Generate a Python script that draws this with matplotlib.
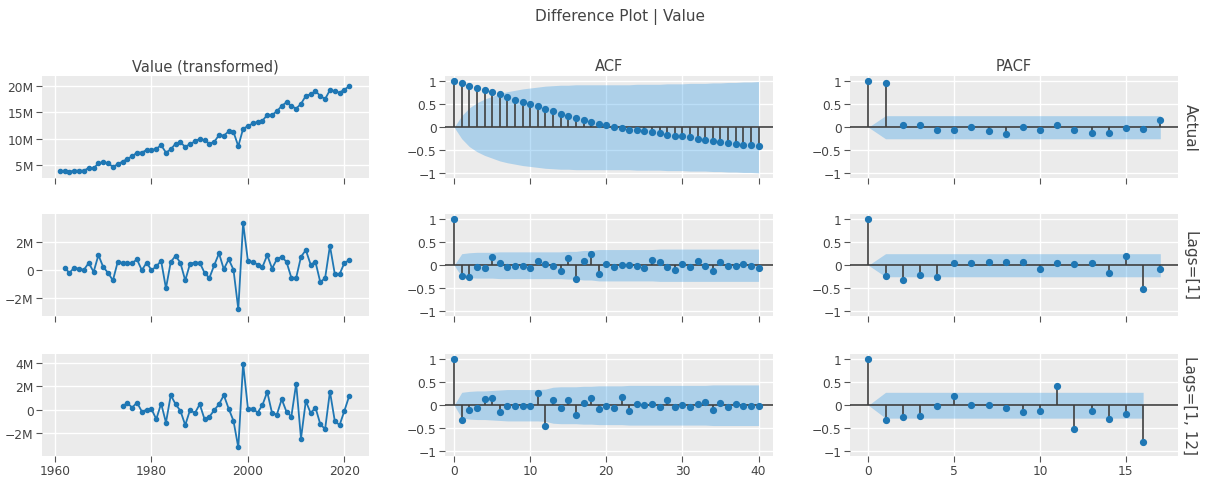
import numpy as np
import matplotlib
matplotlib.use("Agg")
import matplotlib.pyplot as plt
from matplotlib.ticker import FixedLocator

# ---- data ----
years = list(range(1961, 2022))
value_actual = [3.9, 4.0, 3.8, 4.0, 4.0, 4.0, 4.5, 4.4, 5.4, 5.6,
                5.4, 4.7, 5.2, 5.7, 6.2, 6.7, 7.4, 7.4, 7.9, 7.9,
                8.1, 8.8, 7.4, 8.0, 9.1, 9.3, 8.5, 9.0, 9.5, 10.0,
                9.7, 9.1, 9.4, 10.7, 10.6, 11.4, 11.3, 8.6, 11.9, 12.4,
                12.9, 13.2, 13.4, 14.5, 14.5, 15.2, 16.2, 16.9, 16.2, 15.7,
                16.6, 18.1, 18.4, 19.0, 18.1, 17.5, 19.2, 19.0, 18.7, 19.3,
                19.9]
value_lag1 = [0.14, -0.2, 0.17, 0.07, 0.02, 0.5, -0.14, 1.05, 0.2, -0.2,
              -0.74, 0.57, 0.5, 0.5, 0.5, 0.74, -0.02, 0.52, -0.02, 0.26,
              0.64, -1.29, 0.57, 1.0, 0.5, -0.74, 0.45, 0.52, 0.52, -0.2,
              -0.57, 0.33, 1.17, 0.05, 0.76, 0.02, -2.76, 3.3, 0.62, 0.57,
              0.38, 0.2, 1.05, 0.1, 0.76, 0.93, 0.57, -0.55, -0.55, 0.93,
              1.4, 0.38, 0.57, -0.86, -0.57, 1.7, -0.26, -0.3, 0.5, 0.69]
value_lag1_12 = [0.34, 0.57, 0.2, 0.62, -0.14, 0.0, 0.06, -0.79, 0.54, -1.08,
                 1.25, 0.48, -0.08, -1.3, 0.0, -0.28, 0.48, -0.79, -0.59, -0.03,
                 0.48, 1.25, 0.11, -0.93, -3.2, 3.94, 0.11, 0.11, -0.23, 0.4,
                 1.53, -0.28, -0.4, 0.91, -0.17, -0.57, 2.24, -2.44, 0.76, -0.28,
                 0.2, -1.22, -1.64, 1.56, -0.93, -1.3, -0.08, 1.19]

acf_actual = [1.0, 0.95, 0.9, 0.86, 0.81, 0.76, 0.71, 0.66, 0.6, 0.55,
              0.5, 0.45, 0.4, 0.35, 0.29, 0.24, 0.19, 0.15, 0.11, 0.07,
              0.04, 0.01, -0.02, -0.05, -0.07, -0.09, -0.11, -0.13, -0.16, -0.18,
              -0.2, -0.22, -0.25, -0.27, -0.29, -0.32, -0.34, -0.36, -0.38, -0.39,
              -0.41]
acf_actual_ci = [0.0, 0.25, 0.42, 0.53, 0.61, 0.67, 0.73, 0.77, 0.8, 0.83,
                 0.85, 0.87, 0.89, 0.9, 0.91, 0.91, 0.92, 0.92, 0.92, 0.92,
                 0.92, 0.92, 0.92, 0.92, 0.93, 0.93, 0.93, 0.93, 0.94, 0.94,
                 0.94, 0.95, 0.95, 0.95, 0.96, 0.96, 0.97, 0.97, 0.98, 0.98,
                 0.99]
acf_lag1 = [1.0, -0.23, -0.25, -0.04, -0.06, 0.18, 0.04, -0.04, -0.02, -0.01,
            -0.06, 0.1, 0.03, -0.02, -0.12, 0.15, -0.29, 0.1, 0.24, -0.19,
            0.03, -0.03, 0.01, 0.01, -0.02, -0.06, 0.12, 0.07, -0.04, -0.1,
            0.03, -0.04, 0.1, -0.01, -0.12, 0.07, -0.02, -0.01, 0.03, -0.02,
            -0.06]
acf_lag1_ci = [0.0, 0.25, 0.27, 0.28, 0.28, 0.28, 0.29, 0.29, 0.29, 0.29,
               0.29, 0.29, 0.29, 0.29, 0.29, 0.3, 0.3, 0.32, 0.32, 0.34,
               0.34, 0.34, 0.34, 0.34, 0.34, 0.34, 0.34, 0.35, 0.35, 0.35,
               0.35, 0.35, 0.35, 0.35, 0.35, 0.35, 0.35, 0.35, 0.35, 0.35,
               0.35]
acf_lag1_12 = [1.0, -0.31, -0.11, -0.06, 0.13, 0.15, -0.15, -0.02, -0.01, -0.01,
               -0.01, 0.27, -0.46, 0.11, -0.05, 0.11, -0.22, 0.04, 0.16, -0.09,
               -0.02, -0.06, 0.18, -0.13, 0.02, 0.01, 0.03, -0.04, 0.11, -0.04,
               0.0, -0.04, 0.02, 0.07, -0.11, 0.04, -0.04, 0.03, -0.01, -0.01,
               -0.01]
acf_lag1_12_ci = [0.0, 0.28, 0.3, 0.31, 0.31, 0.32, 0.33, 0.34, 0.34, 0.34,
                  0.34, 0.34, 0.35, 0.39, 0.4, 0.4, 0.4, 0.41, 0.41, 0.42,
                  0.42, 0.42, 0.42, 0.43, 0.43, 0.43, 0.43, 0.43, 0.43, 0.43,
                  0.43, 0.43, 0.43, 0.43, 0.44, 0.44, 0.44, 0.44, 0.44, 0.44,
                  0.44]

pacf_actual = [1.0, 0.96, 0.05, 0.04, -0.06, -0.07, 0.0, -0.09, -0.15, 0.0,
               -0.05, 0.05, -0.07, -0.12, -0.12, -0.01, -0.04, 0.16]
pacf_lag1 = [1.0, -0.24, -0.32, -0.21, -0.25, 0.05, 0.05, 0.08, 0.07, 0.08,
             -0.08, 0.05, 0.03, 0.04, -0.17, 0.21, -0.52, -0.08]
pacf_lag1_12 = [1.0, -0.33, -0.25, -0.24, -0.01, 0.21, 0.01, 0.01, -0.05, -0.14,
                -0.12, 0.41, -0.51, -0.12, -0.3, -0.2, -0.8]
pacf_ci = [0.25, 0.25, 0.28]  # constant band after lag 0, per row

row_labels = ["Actual", "Lags=[1]", "Lags=[1, 12]"]
col_titles = ["Value (transformed)", "ACF", "PACF"]

BLUE = "#1f77b4"
BAND = (32 / 255, 146 / 255, 230 / 255, 0.3)
STEM = "#3f3f3f"
BG = "#EBEBEB"
TXT = "#444444"

W, H = 1206, 485
fig = plt.figure(figsize=(W / 100, H / 100), dpi=100)
plt.rcParams["font.family"] = "DejaVu Sans"

cols_px = [(42, 369), (445, 773), (850, 1178)]
rows_px = [(77, 179), (215, 317), (355, 457)]


def make_ax(c, r):
    x0, x1 = cols_px[c]
    y0, y1 = rows_px[r]
    ax = fig.add_axes([x0 / W, 1 - y1 / H, (x1 - x0) / W, (y1 - y0) / H])
    ax.set_facecolor(BG)
    for s in ax.spines.values():
        s.set_visible(False)
    ax.grid(True, color="white", linewidth=1.0)
    ax.set_axisbelow(True)
    ax.tick_params(direction="out", length=4, width=0.8, color="#555555",
                   labelcolor=TXT, labelsize=8.8, pad=2)
    return ax


def minus(v):
    s = f"{v:g}"
    return s.replace("-", "\u2212")


series = [value_actual, value_lag1, value_lag1_12]
series_years = [years, years[1:], years[13:]]
ts_ylims = [(2.6, 21.85), (-3.24, 3.94), (-3.93, 4.76)]
ts_yticks = [[5, 10, 15, 20], [-2, 0, 2], [-2, 0, 2, 4]]

acfs = [acf_actual, acf_lag1, acf_lag1_12]
acf_cis = [acf_actual_ci, acf_lag1_ci, acf_lag1_12_ci]
pacfs = [pacf_actual, pacf_lag1, pacf_lag1_12]

for r in range(3):
    # time series column
    ax = make_ax(0, r)
    ax.plot(series_years[r], series[r], color=BLUE, linewidth=1.3,
            marker="o", markersize=3.0, zorder=3)
    ax.set_xlim(1957.3, 2025.1)
    ax.set_ylim(*ts_ylims[r])
    ax.xaxis.set_major_locator(FixedLocator([1960, 1980, 2000, 2020]))
    ax.yaxis.set_major_locator(FixedLocator(ts_yticks[r]))
    ax.set_yticklabels([("0" if t == 0 else minus(t) + "M") for t in ts_yticks[r]])
    if r < 2:
        ax.set_xticklabels([])
    if r == 0:
        ax.set_title(col_titles[0], fontsize=10.5, color=TXT, pad=4)

    # ACF column
    ax = make_ax(1, r)
    lags = np.arange(len(acfs[r]))
    ci = np.array(acf_cis[r])
    ax.fill_between(lags, -ci, ci, color=BAND, linewidth=0, zorder=1)
    ax.axhline(0, color=STEM, linewidth=1.2, zorder=2)
    ax.vlines(lags, 0, acfs[r], color=STEM, linewidth=1.2, zorder=3)
    ax.plot(lags, acfs[r], "o", color=BLUE, markersize=4.2, zorder=4)
    ax.set_xlim(-1.2, 41.9)
    ax.set_ylim(-1.1, 1.11)
    ax.xaxis.set_major_locator(FixedLocator([0, 10, 20, 30, 40]))
    ax.yaxis.set_major_locator(FixedLocator([-1, -0.5, 0, 0.5, 1]))
    ax.set_yticklabels([minus(t) for t in [-1, -0.5, 0, 0.5, 1]])
    if r < 2:
        ax.set_xticklabels([])
    if r == 0:
        ax.set_title(col_titles[1], fontsize=10.5, color=TXT, pad=4)

    # PACF column
    ax = make_ax(2, r)
    lags = np.arange(len(pacfs[r]))
    ci = np.full(len(lags), pacf_ci[r])
    ci[0] = 0.0
    ax.fill_between(lags, -ci, ci, color=BAND, linewidth=0, zorder=1)
    ax.axhline(0, color=STEM, linewidth=1.2, zorder=2)
    ax.vlines(lags, 0, pacfs[r], color=STEM, linewidth=1.2, zorder=3)
    ax.plot(lags, pacfs[r], "o", color=BLUE, markersize=4.2, zorder=4)
    ax.set_xlim(-1.07, 18.03)
    ax.set_ylim(-1.1, 1.11)
    ax.xaxis.set_major_locator(FixedLocator([0, 5, 10, 15]))
    ax.yaxis.set_major_locator(FixedLocator([-1, -0.5, 0, 0.5, 1]))
    ax.set_yticklabels([minus(t) for t in [-1, -0.5, 0, 0.5, 1]])
    if r < 2:
        ax.set_xticklabels([])
    if r == 0:
        ax.set_title(col_titles[2], fontsize=10.5, color=TXT, pad=4)

    # row label on the right
    yc = (rows_px[r][0] + rows_px[r][1]) / 2
    fig.text(1190 / W, 1 - yc / H, row_labels[r], rotation=-90,
             ha="center", va="center", fontsize=11, color=TXT)

fig.text(620 / W, 1 - 17 / H, "Difference Plot | Value", ha="center",
         va="center", fontsize=11, color=TXT)

fig.savefig("out.png", dpi=100)
plt.close(fig)
